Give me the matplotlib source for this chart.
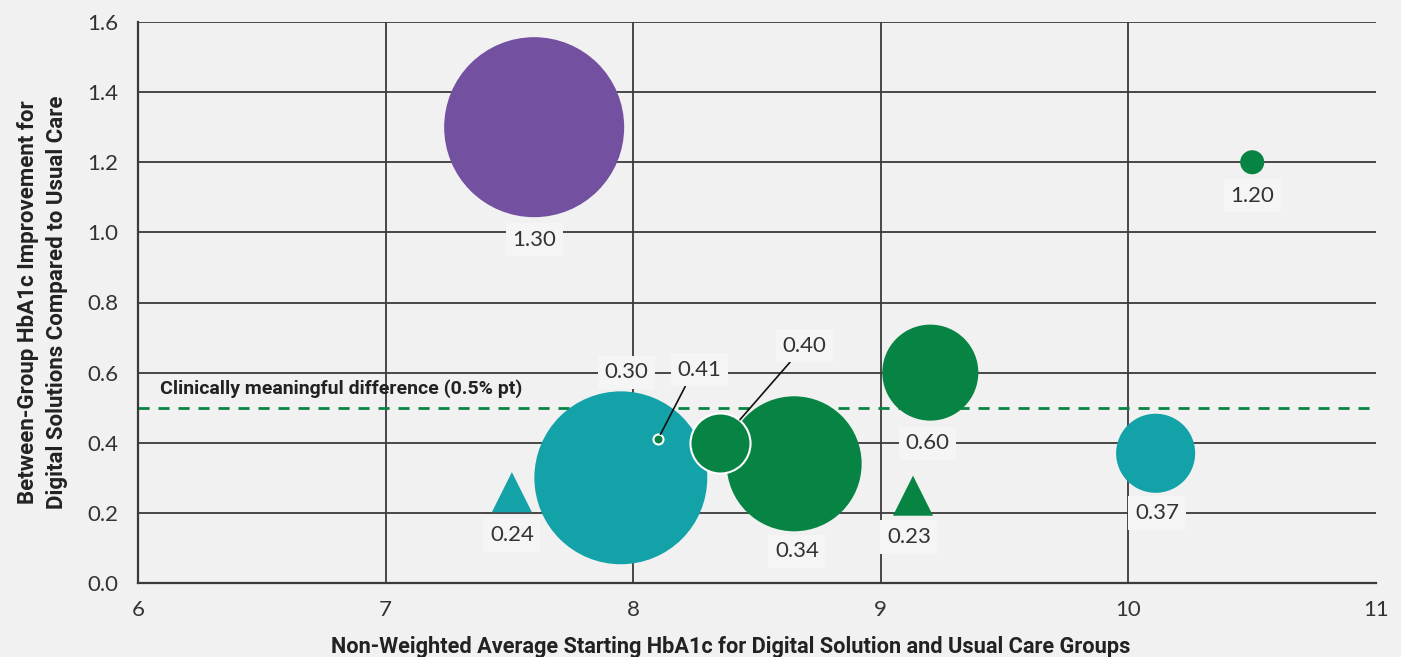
import numpy as np
import matplotlib
matplotlib.use('Agg')
import matplotlib.pyplot as plt
from matplotlib.path import Path
from matplotlib import font_manager

# ===================== data =====================
x_vals = [7.60, 10.50, 7.95, 8.10, 8.35, 8.65, 9.20, 7.51, 9.13, 10.11]
y_vals = [1.30, 1.20, 0.30, 0.41, 0.40, 0.34, 0.60, 0.24, 0.23, 0.37]
labels = ['1.30', '1.20', '0.30', '0.41', '0.40', '0.34', '0.60', '0.24', '0.23', '0.37']
groups = ['purple', 'green', 'teal', 'green', 'green', 'green', 'green', 'teal', 'green', 'teal']
shapes = ['o', 'o', 'o', 'o', 'o', 'o', 'o', '^', '^', 'o']
bubble_size = [16800, 300, 15500, 52, 1870, 9450, 4780, 1480, 1480, 3240]

x_ticks = [6, 7, 8, 9, 10, 11]
y_ticks = [0.0, 0.2, 0.4, 0.6, 0.8, 1.0, 1.2, 1.4, 1.6]
threshold = 0.5

colors = {'purple': '#7350A0', 'green': '#078443', 'teal': '#12A2A8'}

# label offsets in points (dx, dy)
label_offsets = [(0, -81), (0, -24), (4, 76), (30, 50), (61, 70),
                 (2, -63), (-2, -51), (0, -26), (-3, -25), (1, -43)]
leader = [False, False, False, True, True, False, False, False, False, False]
white_edge = [False, False, False, True, True, False, False, False, False, False]

# ===================== fonts =====================
names = {f.name for f in font_manager.fontManager.ttflist}
narrow = 'Liberation Sans Narrow' if 'Liberation Sans Narrow' in names else 'Roboto'
light = 'Lato' if 'Lato' in names else 'DejaVu Sans'

BG = '#F1F1F1'
GRID = '#3a3a3a'
TXT = '#333333'

fig = plt.figure(figsize=(14.01, 6.57), dpi=100, facecolor=BG)
ax = fig.add_axes([138 / 1401, 1 - 583 / 657, (1376 - 138) / 1401, (583 - 22) / 657])
ax.set_facecolor(BG)

ax.set_xlim(6, 11)
ax.set_ylim(0, 1.6)
ax.set_xticks(x_ticks)
ax.set_yticks(y_ticks)
ax.set_xticklabels([str(t) for t in x_ticks])
ax.set_yticklabels([f'{t:.1f}' for t in y_ticks])
ax.tick_params(length=0, pad=14, labelsize=16, labelcolor=TXT)
for lab in ax.get_xticklabels() + ax.get_yticklabels():
    lab.set_family(light)
ax.tick_params(axis='x', pad=12)

for s in ['top', 'right']:
    ax.spines[s].set_visible(False)
for s in ['left', 'bottom']:
    ax.spines[s].set_color(GRID)
    ax.spines[s].set_linewidth(1.6)

for t in y_ticks[1:]:
    ax.axhline(t, color=GRID, lw=1.3, zorder=1)
for t in x_ticks[1:-1]:
    ax.axvline(t, color=GRID, lw=1.3, zorder=1)

ax.axhline(threshold, color='#078443', lw=2, ls=(0, (4, 3.2)), zorder=2)
ax.text(6.09, threshold + 0.028, 'Clinically meaningful difference (0.5% pt)',
        fontsize=14, fontweight='bold', color='#222222', family=narrow,
        va='bottom', ha='left', zorder=3)

# triangle marker with centroid at the data point
tri = Path([(0, 2 / 3), (-0.5, -1 / 3), (0.5, -1 / 3), (0, 2 / 3)],
           [Path.MOVETO, Path.LINETO, Path.LINETO, Path.CLOSEPOLY])

order = [0, 2, 5, 1, 6, 9, 7, 8, 4, 3]
for z, i in enumerate(order):
    m = tri if shapes[i] == '^' else 'o'
    ax.scatter(x_vals[i], y_vals[i], s=bubble_size[i], marker=m, color=colors[groups[i]],
               edgecolors='white' if white_edge[i] else 'none',
               linewidths=1.5 if white_edge[i] else 0, zorder=4 + z)

box = dict(boxstyle='square,pad=0.3', fc='#F5F5F5', ec='none')
for i in range(len(labels)):
    dx, dy = label_offsets[i]
    kw = {}
    if leader[i]:
        kw['arrowprops'] = dict(arrowstyle='-', color='#111111', lw=1.2,
                                shrinkA=0, shrinkB=4 if i == 3 else 22,
                                relpos=(0.25, 0.0) if i == 3 else (0.3, 0.0))
    ax.annotate(labels[i], (x_vals[i], y_vals[i]), xytext=(dx, dy),
                textcoords='offset points', ha='center', va='center',
                fontsize=16, color=TXT, family=light,
                bbox=box, zorder=20, **kw)

ax.set_xlabel('Non-Weighted Average Starting HbA1c for Digital Solution and Usual Care Groups',
              fontsize=15.7, fontweight='bold', color='#222222', family=narrow)
ax.xaxis.set_label_coords((731 - 138) / 1238, -0.095)
ax.set_ylabel('Between-Group HbA1c Improvement for\nDigital Solutions Compared to Usual Care',
              fontsize=16, fontweight='bold', color='#222222', family=narrow,
              linespacing=1.4)
ax.yaxis.set_label_coords(-(138 - 68) / 1238, 0.5)

fig.savefig('out.png', dpi=100, facecolor=BG)
